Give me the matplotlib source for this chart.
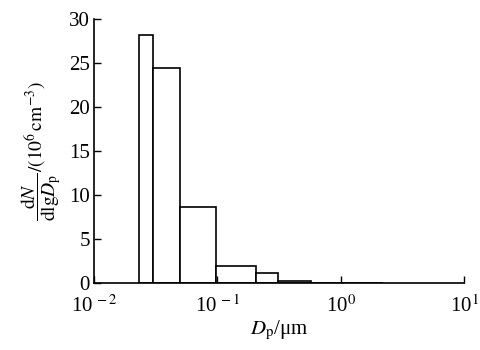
import matplotlib
matplotlib.use("Agg")
import matplotlib.pyplot as plt
import numpy as np

plt.rcParams['font.family'] = ['Liberation Serif', 'DejaVu Serif']
plt.rcParams['mathtext.fontset'] = 'stix'

# bin edges (um) and dN/dlgDp values (10^6 cm^-3)
bin_edges = [0.023, 0.030, 0.050, 0.097, 0.207, 0.31, 0.57, 2.2]
values = [28.2, 24.4, 8.6, 2.0, 1.2, 0.2, 0.05]
x_ticks = [1e-2, 1e-1, 1e0, 1e1]
x_ticklabels = ['10$^{\\,-2}$', '10$^{\\,-1}$', '10$^{0}$', '10$^{1}$']
y_ticks = [0, 5, 10, 15, 20, 25, 30]

fig = plt.figure(figsize=(4.8, 3.5), dpi=100)
ax = fig.add_axes([0.196, 0.191, 0.771, 0.755])

edges = np.array(bin_edges)
ax.bar(edges[:-1], values, width=np.diff(edges), align='edge',
       facecolor='white', edgecolor='black', linewidth=1.2)

ax.set_xscale('log')
ax.set_xlim(1e-2, 1e1)
ax.set_ylim(0, 30)
ax.set_xticks(x_ticks)
ax.set_xticklabels(x_ticklabels)
ax.minorticks_off()
ax.set_yticks(y_ticks)
ax.tick_params(direction='in', length=5, width=1, labelsize=15)
ax.tick_params(axis='y', pad=3)
ax.tick_params(axis='x', pad=9)
for s in ['top', 'right']:
    ax.spines[s].set_visible(False)
for s in ['left', 'bottom']:
    ax.spines[s].set_linewidth(1.2)

ax.set_xlabel(r'$D_\mathrm{p}$/μm', fontsize=15, labelpad=1)
ax.set_ylabel(r'$\dfrac{\mathrm{d}N}{\mathrm{dlg}D_\mathrm{p}}/(10^6\,\mathrm{cm}^{-3})$',
              fontsize=14, labelpad=4)

fig.savefig('out.png', dpi=100)
